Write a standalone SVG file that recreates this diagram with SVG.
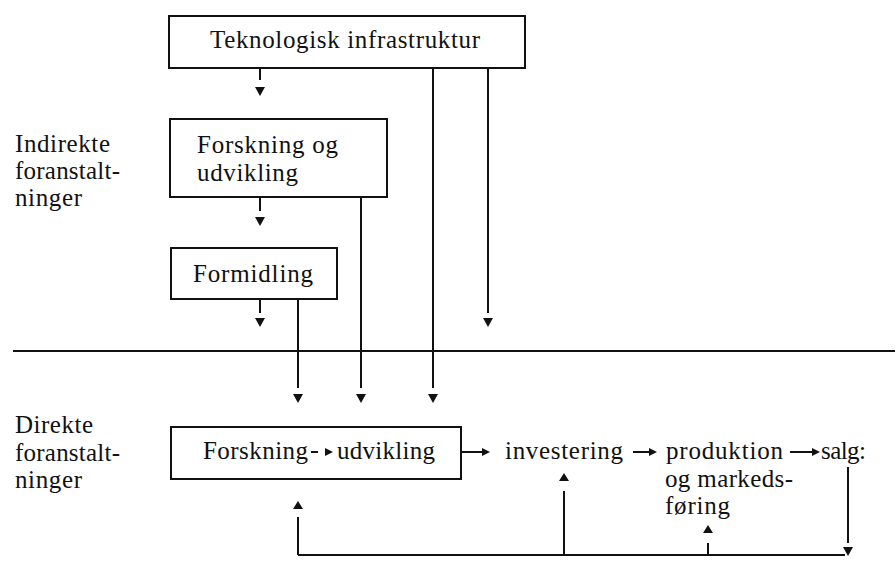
<svg xmlns="http://www.w3.org/2000/svg" xmlns:xlink="http://www.w3.org/1999/xlink" width="896" height="575" viewBox="0 0 896 575">
<style>
  .box { fill: #fff; stroke: #111; stroke-width: 2; }
  .t { font-family: "Liberation Serif", "Times New Roman", serif; font-size: 25px; fill: #111; }
  .ln { stroke: #111; stroke-width: 2; fill: none; }
  .ah { fill: #111; stroke: none; }
</style>
<defs>
  <polygon id="dn" points="-5,0 5,0 0,9"/>
  <polygon id="up" points="-5,0 5,0 0,-8"/>
  <polygon id="rt" points="0,-4 0,4 8,0"/>
</defs>
<rect width="896" height="575" fill="#fff"/>

<g id="divider">
  <line class="ln" x1="13" y1="351" x2="895" y2="351"/>
</g>

<g id="labels">
  <text class="t" x="15" y="152" textLength="95" lengthAdjust="spacing">Indirekte</text>
  <text class="t" x="15" y="179" textLength="105" lengthAdjust="spacing">foranstalt-</text>
  <text class="t" x="15" y="206" textLength="67" lengthAdjust="spacing">ninger</text>
  <text class="t" x="15" y="433" textLength="78" lengthAdjust="spacing">Direkte</text>
  <text class="t" x="15" y="461" textLength="105" lengthAdjust="spacing">foranstalt-</text>
  <text class="t" x="15" y="488" textLength="67" lengthAdjust="spacing">ninger</text>
</g>

<g id="n-infra">
  <rect class="box" x="169" y="16" width="356" height="52"/>
  <text class="t" x="210" y="48" textLength="270" lengthAdjust="spacing">Teknologisk infrastruktur</text>
</g>

<g id="n-fou">
  <rect class="box" x="170" y="119" width="217" height="78"/>
  <text class="t" x="197" y="153" textLength="141" lengthAdjust="spacing">Forskning og</text>
  <text class="t" x="197" y="181" textLength="101" lengthAdjust="spacing">udvikling</text>
</g>

<g id="n-formidling">
  <rect class="box" x="171" y="248" width="166" height="51"/>
  <text class="t" x="193" y="282" textLength="120" lengthAdjust="spacing">Formidling</text>
</g>

<g id="n-fu">
  <rect class="box" x="171" y="427" width="290" height="52"/>
  <text class="t" x="203" y="459" textLength="105" lengthAdjust="spacing">Forskning</text>
  <line class="ln" x1="311" y1="452" x2="318" y2="452"/>
  <use href="#rt" class="ah" x="325" y="452"/>
  <text class="t" x="337" y="459" textLength="98" lengthAdjust="spacing">udvikling</text>
</g>

<g id="n-investering">
  <text class="t" x="505" y="459" textLength="118" lengthAdjust="spacing">investering</text>
</g>

<g id="n-produktion">
  <text class="t" x="666" y="459" textLength="117" lengthAdjust="spacing">produktion</text>
  <text class="t" x="665" y="487" textLength="128" lengthAdjust="spacing">og markeds-</text>
  <text class="t" x="665" y="514" textLength="65" lengthAdjust="spacing">føring</text>
</g>

<g id="n-salg">
  <text class="t" x="821" y="459" textLength="45" lengthAdjust="spacing">salg:</text>
</g>

<g id="connectors">
  <line class="ln" x1="260" y1="68" x2="260" y2="80"/>
  <use href="#dn" class="ah" x="260" y="87"/>
  <line class="ln" x1="260" y1="197" x2="260" y2="211"/>
  <use href="#dn" class="ah" x="260" y="217"/>
  <line class="ln" x1="260" y1="299" x2="260" y2="313"/>
  <use href="#dn" class="ah" x="260" y="318"/>

  <line class="ln" x1="298" y1="299" x2="298" y2="388"/>
  <use href="#dn" class="ah" x="298" y="394"/>
  <line class="ln" x1="361" y1="197" x2="361" y2="388"/>
  <use href="#dn" class="ah" x="361" y="394"/>
  <line class="ln" x1="433" y1="68" x2="433" y2="388"/>
  <use href="#dn" class="ah" x="433" y="394"/>
  <line class="ln" x1="488" y1="68" x2="488" y2="313"/>
  <use href="#dn" class="ah" x="488" y="318"/>

  <line class="ln" x1="461" y1="452" x2="483" y2="452"/>
  <use href="#rt" class="ah" x="482" y="452"/>
  <line class="ln" x1="633" y1="452" x2="650" y2="452"/>
  <use href="#rt" class="ah" x="649" y="452"/>
  <line class="ln" x1="790" y1="452" x2="813" y2="452"/>
  <use href="#rt" class="ah" x="812" y="452"/>

  <line class="ln" x1="848" y1="467" x2="848" y2="543"/>
  <use href="#dn" class="ah" x="848" y="547"/>
  <line class="ln" x1="298" y1="555" x2="845" y2="555"/>
  <line class="ln" x1="298" y1="555" x2="298" y2="517"/>
  <use href="#up" class="ah" x="298" y="509"/>
  <line class="ln" x1="564" y1="555" x2="564" y2="491"/>
  <use href="#up" class="ah" x="564" y="481"/>
  <line class="ln" x1="708" y1="555" x2="708" y2="543"/>
  <use href="#up" class="ah" x="708" y="533"/>
</g>
</svg>
